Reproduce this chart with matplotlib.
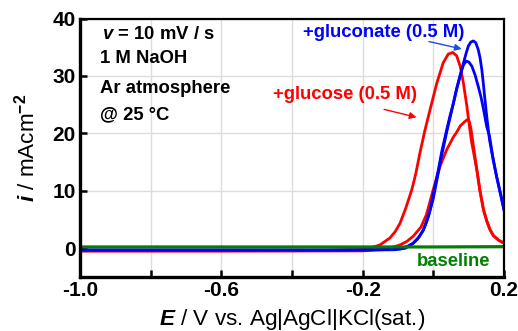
import numpy as np
import matplotlib
matplotlib.use('Agg')
import matplotlib.pyplot as plt
from matplotlib.ticker import MultipleLocator

plt.rcParams['font.family'] = ['Liberation Sans', 'DejaVu Sans']
plt.rcParams['font.weight'] = 'bold'
plt.rcParams['axes.unicode_minus'] = False
plt.rcParams['mathtext.fontset'] = 'custom'
plt.rcParams['mathtext.rm'] = 'Liberation Sans:bold'
plt.rcParams['mathtext.bf'] = 'Liberation Sans:bold'
plt.rcParams['mathtext.it'] = 'Liberation Sans:bold:italic'

# glucose (red): anodic sweep then cathodic sweep
red_fwd_E = [-1.0, -0.6, -0.3, -0.2, -0.175, -0.151, -0.123, -0.108, -0.094, -0.078, -0.061,
             -0.05, -0.038, -0.024, -0.009, 0.010, 0.028, 0.042, 0.055, 0.066, 0.076,
             0.085, 0.095, 0.102, 0.108, 0.116, 0.123, 0.132, 0.142, 0.151, 0.16, 0.170,
             0.185, 0.2]
red_fwd_i = [-0.35, -0.35, -0.35, -0.2, 0.1, 0.6, 1.8, 2.9, 4.4, 7.0, 10.2,
             12.9, 16.6, 20.5, 24.2, 28.8, 32.3, 33.8, 34.1, 33.5, 31.7,
             28.8, 24.7, 21.3, 18.6, 16.0, 13.7, 10.0, 6.7, 4.8, 3.3, 2.2,
             1.4, 0.9]
red_rev_E = [0.2, 0.185, 0.170, 0.16, 0.151, 0.142, 0.132, 0.123, 0.113, 0.106, 0.101,
             0.096, 0.088, 0.076, 0.065, 0.057, 0.038, 0.019, 0.0, -0.01, -0.02, -0.035,
             -0.057, -0.075, -0.094, -0.13, -0.2, -0.6, -1.0]
red_rev_i = [0.9, 1.4, 2.2, 3.3, 4.8, 6.7, 10.0, 13.7, 18.0, 21.0, 22.2,
             22.4, 22.0, 21.3, 20.1, 19.4, 17.2, 14.3, 10.3, 8.0, 5.8, 3.7,
             2.1, 1.2, 0.6, -0.1, -0.45, -0.5, -0.5]

# gluconate (blue)
blue_fwd_E = [-1.0, -0.6, -0.3, -0.15, -0.094, -0.075, -0.057, -0.04, -0.028, -0.014, 0.0,
              0.012, 0.024, 0.038, 0.052, 0.065, 0.076, 0.085, 0.093, 0.099, 0.106, 0.113,
              0.12, 0.127, 0.132, 0.137, 0.141, 0.145, 0.151, 0.159, 0.170, 0.179, 0.19, 0.2]
blue_fwd_i = [-0.3, -0.3, -0.3, -0.25, -0.1, 0.3, 0.9, 2.0, 3.2, 5.5, 8.7,
              12.5, 16.3, 20.3, 24.0, 27.5, 30.0, 32.2, 34.0, 35.2, 35.9, 36.1,
              35.8, 34.6, 33.2, 31.2, 29.0, 26.5, 23.0, 18.9, 15.2, 12.5, 9.5, 6.7]
blue_rev_E = [0.2, 0.19, 0.179, 0.168, 0.159, 0.151, 0.142, 0.135, 0.127, 0.118, 0.109,
              0.101, 0.093, 0.085, 0.076, 0.066, 0.057, 0.047, 0.038, 0.024, 0.012, 0.0,
              -0.01, -0.02, -0.03, -0.045, -0.06, -0.08, -0.11, -0.2, -0.6, -1.0]
blue_rev_i = [6.7, 9.5, 12.5, 16.0, 19.5, 21.2, 24.2, 26.3, 28.2, 30.2, 31.7,
              32.4, 32.6, 31.9, 30.2, 27.8, 25.3, 23.0, 20.7, 16.9, 13.0, 9.5,
              6.5, 4.5, 3.0, 1.6, 0.7, 0.0, -0.25, -0.3, -0.3, -0.3]

# baseline (green)
base_E = [-1.0, -0.6, -0.2, 0.0, 0.2]
base_i = [0.25, 0.25, 0.25, 0.25, 0.3]

fig = plt.figure(figsize=(5.18, 3.31), dpi=100)
ax = fig.add_axes([0.1544, 0.163, 0.8186, 0.781])

ax.plot(red_fwd_E, red_fwd_i, color='#ff0000', lw=2.0)
ax.plot(red_rev_E, red_rev_i, color='#ff0000', lw=2.0)
ax.plot(blue_fwd_E, blue_fwd_i, color='#0000ff', lw=2.0)
ax.plot(blue_rev_E, blue_rev_i, color='#0000ff', lw=2.0)
ax.plot(base_E, base_i, color='#008000', lw=2.2)

ax.set_xlim(-1.0, 0.2)
ax.set_ylim(-5, 40)
ax.xaxis.set_minor_locator(MultipleLocator(0.2))
ax.yaxis.set_major_locator(MultipleLocator(10))
ax.set_xticks([-1.0, -0.6, -0.2, 0.2])
ax.set_xticklabels(['-1.0', '-0.6', '-0.2', '0.2'])
ax.grid(True, which='both', color='#dcdcdc', lw=1.0)
ax.set_axisbelow(True)
ax.tick_params(which='both', direction='in', length=5, width=1.8, labelsize=15, pad=3)
for s in ['left', 'bottom']:
  ax.spines[s].set_linewidth(2.4)
for s in ['top', 'right']:
  ax.spines[s].set_linewidth(1.6)

ax.set_xlabel('$E$ / V vs. Ag|AgCl|KCl(sat.)', fontsize=16.2, labelpad=5)
ax.set_ylabel('$i$ / mAcm$^{\\mathrm{-2}}$', fontsize=16.2, labelpad=9)

fs = 13.3
ax.text(-0.939, 36.4, '$v$ = 10 mV / s', fontsize=fs, va='baseline')
ax.text(-0.943, 32.2, '1 M NaOH', fontsize=fs, va='baseline')
ax.text(-0.943, 27.1, 'Ar atmosphere', fontsize=fs, va='baseline')
ax.text(-0.943, 22.4, '@ 25 °C', fontsize=fs, va='baseline')

ax.text(-0.368, 36.7, '+gluconate (0.5 M)', fontsize=fs, va='baseline', color='#0000ff')
ax.text(-0.455, 26.0, '+glucose (0.5 M)', fontsize=fs, va='baseline', color='#ff0000')
ax.text(-0.047, -3.05, 'baseline', fontsize=fs, va='baseline', color='#008000')

ax.annotate('', xy=(0.088, 34.6), xytext=(-0.02, 36.1),
            arrowprops=dict(arrowstyle='-|>', color='#1a4fd6', lw=1.0, mutation_scale=10))
ax.annotate('', xy=(-0.04, 22.7), xytext=(-0.147, 24.3),
            arrowprops=dict(arrowstyle='-|>', color='#ff0000', lw=1.0, mutation_scale=10))

fig.savefig('out.png', dpi=100)
